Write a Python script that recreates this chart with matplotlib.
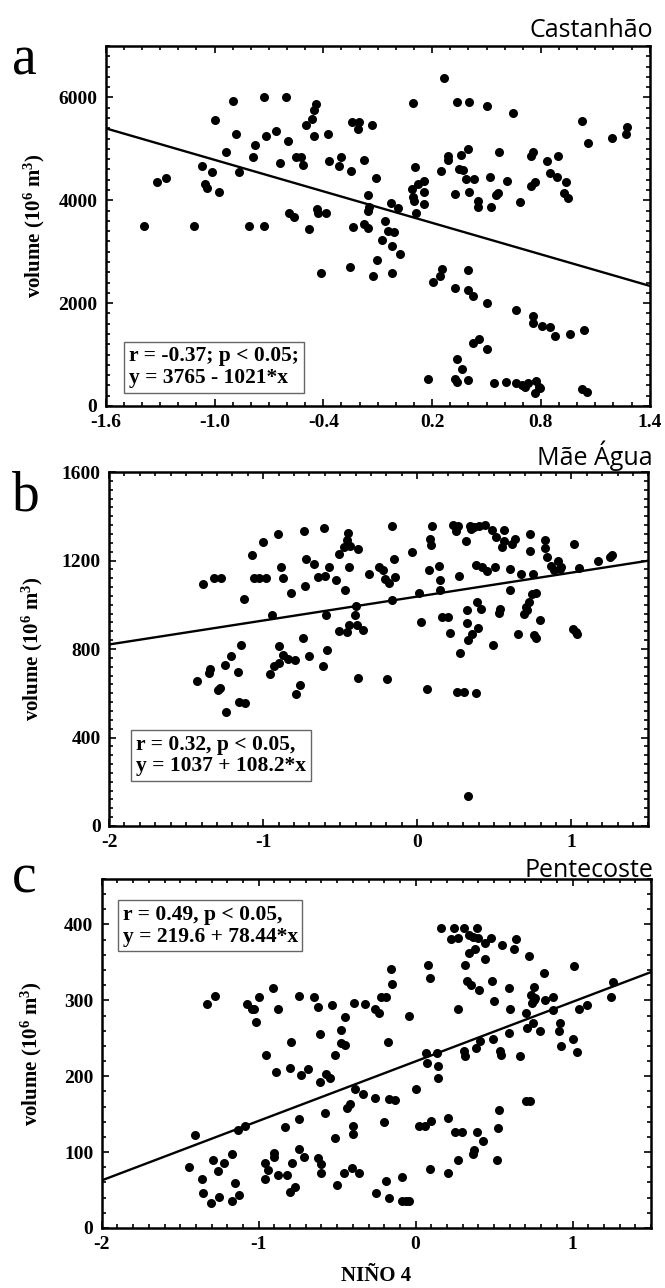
import numpy as np
import matplotlib
matplotlib.use( 'Agg' )
import matplotlib.pyplot as plt
from matplotlib.ticker import AutoMinorLocator

plt.rcParams['axes.unicode_minus'] = False
plt.rcParams['mathtext.default'] = 'regular'

# ---- Castanhão (a) ----
xa = [ -1.39, -1.315, -1.266, -1.114, -1.067, -1.055, -1.039, -1.013, -0.997, -0.978,
       -0.936, -0.899, -0.880, -0.863, -0.812, -0.786, -0.777, -0.725, -0.725, -0.714,
       -0.662, -0.637, -0.604, -0.595, -0.592, -0.564, -0.550, -0.524, -0.513, -0.494,
       -0.480, -0.464, -0.454, -0.438, -0.452, -0.436, -0.431, -0.412, -0.384, -0.375,
       -0.368, -0.316, -0.305, -0.253, -0.246, -0.241, -0.237, -0.209, -0.204, -0.174,
       -0.174, -0.155, -0.155, -0.153, -0.146, -0.132, -0.125, -0.111, -0.104, -0.076,
       -0.061, -0.045, -0.026, -0.022, -0.022, -0.010, 0.013, 0.023, 0.095, 0.088,
       0.095, 0.100, 0.107, 0.109, 0.121, 0.154, 0.156, 0.156, 0.177, 0.205,
       0.243, 0.252, 0.250, 0.264, 0.289, 0.289, 0.324, 0.324, 0.336, 0.336,
       0.324, 0.336, 0.350, 0.359, 0.364, 0.371, 0.388, 0.397, 0.397, 0.397,
       0.404, 0.406, 0.397, 0.425, 0.425, 0.430, 0.451, 0.451, 0.460, 0.500,
       0.504, 0.504, 0.518, 0.525, 0.539, 0.551, 0.561, 0.567, 0.605, 0.614,
       0.647, 0.663, 0.663, 0.685, 0.696, 0.710, 0.729, 0.748, 0.748, 0.755,
       0.757, 0.757, 0.767, 0.767, 0.773, 0.787, 0.797, 0.808, 0.834, 0.848,
       0.850, 0.876, 0.888, 0.893, 0.925, 0.937, 0.949, 0.960, 1.028, 1.040,
       1.028, 1.054, 1.059, 1.190, 1.267, 1.274 ]
ya = [ 3500, 4348, 4438, 3500, 4670, 4322, 4231, 4554, 5562, 4160,
       4935, 5924, 5284, 4541, 3501, 4845, 5078, 6001, 3501, 5258,
       5349, 4722, 6001, 5161, 3747, 3682, 4838, 4838, 4683, 5471,
       3450, 5588, 5762, 5866, 5252, 3824, 3747, 2584, 3753, 5291,
       4767, 4664, 4845, 2700, 4567, 5517, 3475, 5388, 5530, 4774,
       3540, 4108, 3456, 3786, 3863, 5471, 2526, 4425, 2829, 3236,
       3605, 3411, 3941, 2584, 3101, 3379, 3850, 2946, 5898, 4225,
       4057, 3992, 4651, 3747, 4315, 4367, 4167, 3928, 530, 2410,
       2526, 2668, 4574, 6370, 4780, 4858, 4128, 2300, 5911, 904,
       530, 465, 4606, 4884, 711, 4587, 4406, 5000, 2636, 2248,
       5904, 4154, 504, 2132, 1227, 4419, 3992, 3863, 1305, 5833,
       2009, 1111, 4444, 3863, 452, 4108, 4141, 4948, 465, 4373,
       5698, 1860, 452, 3966, 407, 362, 452, 4283, 4858, 1744,
       1615, 4948, 4348, 258, 478, 362, 342, 1563, 4755, 1531,
       4535, 1370, 4444, 4858, 4147, 4354, 4050, 1402, 5543, 1473,
       323, 278, 5110, 5213, 5297, 5426 ]

# ---- Mãe Água (b) ----
xb = [ -1.431, -1.390, -1.352, -1.343, -1.321, -1.272, -1.291, -1.280, -1.250, -1.239,
       -1.209, -1.162, -1.157, -1.143, -1.126, -1.115, -1.074, -1.060, -1.027, -1.000,
       -0.984, -0.956, -0.942, -0.929, -0.904, -0.896, -0.896, -0.882, -0.874, -0.874,
       -0.841, -0.821, -0.794, -0.788, -0.761, -0.739, -0.734, -0.731, -0.725, -0.703,
       -0.670, -0.643, -0.607, -0.610, -0.599, -0.591, -0.588, -0.574, -0.525, -0.508,
       -0.505, -0.467, -0.475, -0.456, -0.451, -0.456, -0.442, -0.440, -0.434, -0.404,
       -0.398, -0.393, -0.385, -0.382, -0.354, -0.310, -0.250, -0.223, -0.212, -0.195,
       -0.181, -0.162, -0.162, -0.151, -0.146, -0.033, 0.011, 0.025, 0.066, 0.077,
       0.085, 0.091, 0.096, 0.143, 0.146, 0.148, 0.162, 0.198, 0.214, 0.234,
       0.250, 0.266, 0.272, 0.277, 0.255, 0.305, 0.319, 0.321, 0.324, 0.327,
       0.330, 0.341, 0.349, 0.354, 0.368, 0.379, 0.382, 0.387, 0.396, 0.401,
       0.412, 0.423, 0.440, 0.451, 0.486, 0.492, 0.505, 0.511, 0.530, 0.538,
       0.547, 0.560, 0.560, 0.602, 0.604, 0.613, 0.635, 0.654, 0.673, 0.692,
       0.706, 0.714, 0.725, 0.731, 0.734, 0.742, 0.750, 0.758, 0.769, 0.769,
       0.797, 0.830, 0.830, 0.841, 0.871, 0.885, 0.912, 0.926, 0.934, 1.011,
       1.016, 1.030, 1.036, 1.047, 1.176, 1.253, 1.264 ]
yb = [ 654, 1092, 692, 711, 1123, 1123, 614, 623, 726, 516,
       770, 695, 562, 820, 1027, 556, 1223, 1123, 1123, 1286,
       1123, 689, 952, 723, 1319, 737, 814, 1173, 1123, 771,
       756, 1054, 752, 595, 639, 848, 1334, 1086, 1209, 770,
       1183, 1125, 1349, 725, 1129, 952, 795, 1173, 1114, 1230,
       880, 1065, 1263, 1295, 1325, 878, 908, 1173, 1266, 953,
       995, 907, 668, 1254, 886, 1137, 1173, 1155, 1117, 665,
       1099, 1358, 1021, 1209, 1125, 1239, 1053, 920, 620, 1155,
       1296, 1271, 1358, 1177, 1113, 1069, 944, 944, 871, 1361,
       1335, 1358, 1131, 782, 606, 606, 1290, 917, 977, 839,
       135, 1356, 1341, 869, 1353, 1179, 603, 1011, 896, 1356,
       983, 1173, 1359, 1152, 1340, 817, 1170, 1305, 962, 980,
       1263, 1340, 1290, 1065, 1161, 1275, 1298, 869, 1140, 959,
       989, 977, 1012, 1242, 1319, 1047, 1140, 862, 851, 1051,
       932, 1295, 1256, 1215, 1177, 1156, 1200, 1164, 1173, 890,
       1277, 878, 869, 1165, 1197, 1214, 1227 ]

# ---- Pentecoste (c) ----
xc = [ -1.442, -1.404, -1.361, -1.353, -1.329, -1.280, -1.302, -1.288, -1.259, -1.251,
       -1.218, -1.173, -1.170, -1.151, -1.124, -1.129, -1.086, -1.073, -1.043, -1.032,
       -1.016, -0.995, -0.957, -0.951, -0.941, -0.962, -0.911, -0.903, -0.900, -0.892,
       -0.879, -0.876, -0.830, -0.817, -0.801, -0.798, -0.795, -0.790, -0.771, -0.741,
       -0.741, -0.741, -0.730, -0.712, -0.685, -0.650, -0.623, -0.623, -0.612, -0.612,
       -0.601, -0.601, -0.580, -0.574, -0.547, -0.531, -0.512, -0.512, -0.501, -0.477,
       -0.477, -0.458, -0.450, -0.450, -0.439, -0.418, -0.407, -0.396, -0.399, -0.391,
       -0.385, -0.361, -0.337, -0.321, -0.261, -0.256, -0.253, -0.232, -0.218, -0.202,
       -0.191, -0.189, -0.175, -0.170, -0.170, -0.159, -0.151, -0.132, -0.084, -0.089,
       -0.062, -0.040, -0.040, 0.005, 0.019, 0.062, 0.067, 0.075, 0.081, 0.092,
       0.094, 0.100, 0.135, 0.140, 0.140, 0.159, 0.208, 0.208, 0.226, 0.245,
       0.251, 0.267, 0.267, 0.272, 0.296, 0.310, 0.307, 0.315, 0.315, 0.326,
       0.337, 0.342, 0.350, 0.364, 0.364, 0.375, 0.377, 0.383, 0.388, 0.388,
       0.396, 0.407, 0.410, 0.431, 0.445, 0.445, 0.480, 0.488, 0.501, 0.496,
       0.518, 0.526, 0.531, 0.536, 0.542, 0.550, 0.593, 0.598, 0.604, 0.628,
       0.641, 0.666, 0.701, 0.706, 0.712, 0.725, 0.730, 0.736, 0.741, 0.747,
       0.757, 0.752, 0.763, 0.790, 0.819, 0.822, 0.873, 0.876, 0.914, 0.922,
       0.927, 1.000, 1.008, 1.030, 1.038, 1.094, 1.248, 1.256 ]
yc = [ 81, 123, 65, 46, 295, 306, 33, 90, 75, 41,
       86, 97, 35, 59, 44, 129, 135, 295, 289, 288,
       271, 305, 86, 228, 76, 65, 316, 99, 93, 205,
       288, 70, 133, 70, 47, 211, 245, 86, 54, 306,
       143, 104, 201, 94, 210, 305, 92, 291, 255, 192,
       84, 72, 151, 203, 198, 294, 118, 228, 57, 261,
       244, 72, 278, 241, 158, 164, 79, 135, 124, 297,
       183, 73, 176, 295, 171, 288, 46, 283, 305, 140,
       305, 62, 245, 170, 40, 341, 321, 169, 67, 35,
       35, 35, 280, 183, 135, 135, 230, 217, 347, 329,
       78, 141, 231, 213, 198, 395, 145, 73, 381, 395,
       126, 288, 90, 382, 126, 395, 233, 226, 346, 325,
       386, 362, 320, 383, 97, 103, 368, 237, 395, 126,
       382, 313, 247, 114, 354, 376, 382, 325, 299, 249,
       90, 132, 155, 233, 228, 373, 316, 257, 288, 367,
       381, 226, 167, 283, 264, 359, 167, 307, 296, 270,
       318, 301, 303, 259, 336, 301, 305, 287, 259, 270,
       240, 249, 345, 232, 288, 294, 305, 324 ]

names = [ 'Castanhão', 'Mãe Água', 'Pentecoste' ]
letters = [ 'a', 'b', 'c' ]
fits = [ ( 3765, -1021 ), ( 1037, 108.2 ), ( 219.6, 78.44 ) ]
stats = [ 'r = -0.37; p < 0.05;\ny = 3765 - 1021*x',
          'r = 0.32, p < 0.05,\ny = 1037 + 108.2*x',
          'r = 0.49, p < 0.05,\ny = 219.6 + 78.44*x' ]

serif = 'Liberation Serif'
fig = plt.figure( figsize = ( 6.65, 12.88 ), dpi = 100 )

# axes rectangles (left, bottom, width, height) in figure fraction
rects = [ [ 0.159, 0.6848, 0.818, 0.2795 ],
          [ 0.164, 0.3587, 0.811, 0.2748 ],
          [ 0.153, 0.0466, 0.826, 0.2710 ] ]
xlims = [ ( -1.6, 1.4 ), ( -2, 1.5 ), ( -2, 1.5 ) ]
ylims = [ ( 0, 7000 ), ( 0, 1600 ), ( 0, 460 ) ]
xticks = [ np.round( np.arange( -1.6, 1.41, 0.6 ), 1 ), [ -2, -1, 0, 1 ], [ -2, -1, 0, 1 ] ]
yticks = [ [ 0, 2000, 4000, 6000 ], [ 0, 400, 800, 1200, 1600 ], [ 0, 100, 200, 300, 400 ] ]
xminor = [ 6, 10, 10 ]
yminor = [ 10, 10, 5 ]
ylab_x = [ -0.108, -0.118, -0.105 ]
box_pos = [ ( 0.043, 0.05, 'bottom' ), ( 0.05, 0.14, 'bottom' ), ( 0.038, 0.925, 'top' ) ]
title_y = [ 0.9713, 0.639, 0.3191 ]
letter_y = [ 0.9425, 0.604, 0.3067 ]

data = [ ( xa, ya ), ( xb, yb ), ( xc, yc ) ]

for i in range( 3 ):
    ax = fig.add_axes( rects[ i ] )
    x, y = data[ i ]
    ax.plot( x, y, 'o', color = 'black', ms = 6.5, mew = 0 )
    b0, b1 = fits[ i ]
    xl = np.array( xlims[ i ] )
    ax.plot( xl, b0 + b1 * xl, color = 'black', lw = 1.7 )
    ax.set_xlim( xlims[ i ] )
    ax.set_ylim( ylims[ i ] )
    ax.set_xticks( xticks[ i ] )
    ax.set_yticks( yticks[ i ] )
    if i == 0:
        ax.set_xticklabels( [ '%.1f' % v for v in xticks[ i ] ] )
    ax.xaxis.set_minor_locator( AutoMinorLocator( xminor[ i ] ) )
    ax.yaxis.set_minor_locator( AutoMinorLocator( yminor[ i ] ) )
    ax.tick_params( which = 'both', direction = 'in', top = True, right = True, width = 1.2 )
    ax.tick_params( which = 'major', length = 5, pad = 6 )
    ax.tick_params( which = 'minor', length = 3 )
    for lab in ax.get_xticklabels( ) + ax.get_yticklabels( ):
        lab.set_fontfamily( serif )
        lab.set_fontweight( 'bold' )
        lab.set_fontsize( 14 )
    for sp in ax.spines.values( ):
        sp.set_linewidth( 1.8 )
    ax.set_ylabel( 'volume (10$^{6}$ m$^{3}$)', fontfamily = serif, fontweight = 'bold', fontsize = 15 )
    ax.yaxis.set_label_coords( ylab_x[ i ], 0.5 )
    bx, by, va = box_pos[ i ]
    ax.text( bx, by, stats[ i ], transform = ax.transAxes, ha = 'left', va = va,
             fontfamily = serif, fontweight = 'bold', fontsize = 15.5, linespacing = 1.1,
             bbox = dict( boxstyle = 'square,pad=0.22', fc = 'white', ec = '#666666', lw = 1 ) )
    fig.text( 0.982, title_y[ i ], names[ i ], ha = 'right', va = 'baseline',
              fontfamily = 'Open Sans', fontsize = 18 )
    fig.text( 0.018, letter_y[ i ], letters[ i ], ha = 'left', va = 'baseline',
              fontfamily = serif, fontsize = 40 )
    if i == 2:
        ax.set_xlabel( 'NIÑO 4', fontfamily = serif, fontweight = 'bold', fontsize = 15, labelpad = 9 )

fig.savefig( 'out.png', dpi = 100 )
